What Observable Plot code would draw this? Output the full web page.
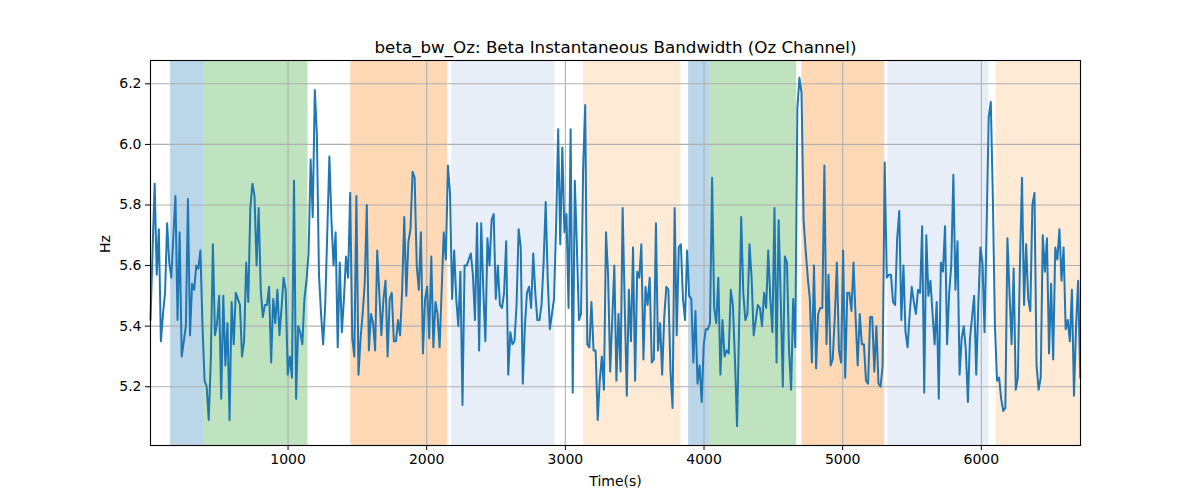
<!DOCTYPE html>
<html>
<head>
<meta charset="utf-8">
<script src="https://cdn.jsdelivr.net/npm/d3@7"></script>
<script src="https://cdn.jsdelivr.net/npm/@observablehq/plot@0.6"></script>
<style>
  html, body { margin: 0; padding: 0; background: #ffffff; }
  #chart { width: 1200px; height: 500px; }
</style>
</head>
<body>
<div id="chart"></div>
<script>
const chartTitle = "beta_bw_Oz: Beta Instantaneous Bandwidth (Oz Channel)";
const xLabel = "Time(s)";
const yLabel = "Hz";
const xTicks = [1000, 2000, 3000, 4000, 5000, 6000];
const yTicks = [5.2, 5.4, 5.6, 5.8, 6.0, 6.2];
const xDomain = [8, 6715];
const yDomain = [5.006, 6.277];

const sampleStart = 8;
const sampleStep = 15;

const bandwidth = [
  5.42,5.65,5.87,5.57,5.72,5.35,5.44,5.51,5.74,5.61,5.56,5.70,5.83,5.42,5.71,5.30,5.35,5.40,5.82,5.37,5.54,5.52,5.60,5.59,5.65,5.40,5.22,5.20,5.09,5.29,5.67,5.37,5.41,5.50,5.16,5.50,5.27,5.41,5.09,5.48,5.34,5.51,5.49,5.47,5.30,5.35,5.61,5.48,5.79,5.87,5.83,5.60,5.79,5.52,5.43,5.47,5.47,5.53,
  5.28,5.49,5.41,5.52,5.37,5.46,5.56,5.52,5.24,5.30,5.23,5.88,5.16,5.40,5.38,5.34,5.49,5.55,5.64,5.95,5.76,6.18,6.03,5.57,5.44,5.34,5.47,5.71,5.96,5.75,5.60,5.71,5.33,5.61,5.38,5.49,5.63,5.56,5.84,5.36,5.30,5.83,5.24,5.36,5.44,5.54,5.80,5.32,5.44,5.41,5.32,5.65,5.51,5.37,5.49,5.55,
  5.30,5.49,5.51,5.35,5.35,5.42,5.37,5.52,5.76,5.50,5.68,5.72,5.91,5.89,5.60,5.52,5.71,5.31,5.49,5.53,5.36,5.63,5.33,5.48,5.44,5.33,5.52,5.71,5.62,5.93,5.84,5.49,5.65,5.49,5.40,5.58,5.14,5.60,5.60,5.62,5.64,5.57,5.42,5.74,5.32,5.74,5.52,5.35,5.69,5.60,5.75,5.77,5.49,5.60,5.47,
  5.46,5.51,5.68,5.24,5.38,5.34,5.35,5.47,5.72,5.66,5.21,5.40,5.51,5.53,5.46,5.64,5.51,5.42,5.42,5.47,5.61,5.81,5.55,5.39,5.44,5.49,5.73,6.05,5.67,5.99,5.71,5.77,5.46,6.05,5.18,5.88,5.66,5.42,5.44,5.92,6.13,5.34,5.33,5.48,5.32,5.32,5.09,5.22,5.30,5.19,5.71,5.57,5.25,5.42,5.60,
  5.22,5.44,5.25,5.79,5.47,5.17,5.52,5.35,5.66,5.22,5.58,5.56,5.67,5.29,5.53,5.47,5.56,5.28,5.29,5.74,5.32,5.41,5.24,5.43,5.53,5.52,5.25,5.13,5.79,5.37,5.66,5.67,5.49,5.42,5.65,5.50,5.49,5.28,5.45,5.21,5.27,5.15,5.34,5.39,5.39,5.41,5.89,5.46,5.41,5.56,5.24,5.42,5.30,5.32,5.31,5.52,
  5.47,5.29,5.07,5.40,5.76,5.51,5.42,5.44,5.67,5.56,5.37,5.42,5.47,5.46,5.40,5.51,5.46,5.65,5.49,5.38,5.79,5.28,5.75,5.49,5.20,5.63,5.61,5.32,5.19,5.49,5.33,6.12,6.22,6.17,5.75,5.65,5.56,5.49,5.28,5.60,5.26,5.44,5.46,5.46,5.93,5.34,5.57,5.27,5.29,5.43,5.61,5.32,5.28,5.65,5.23,
  5.51,5.51,5.45,5.61,5.43,5.27,5.44,5.34,5.34,5.22,5.21,5.43,5.43,5.25,5.40,5.21,5.20,5.27,5.94,5.56,5.57,5.57,5.48,5.47,5.69,5.78,5.42,5.60,5.38,5.33,5.44,5.53,5.48,5.44,5.52,5.51,5.73,5.18,5.70,5.50,5.55,5.44,5.34,5.48,5.16,5.61,5.58,5.73,5.34,5.51,5.60,5.90,5.52,5.68,5.24,
  5.36,5.40,5.32,5.15,5.36,5.43,5.50,5.24,5.47,5.66,5.61,5.38,5.73,6.09,6.14,5.82,5.40,5.22,5.23,5.16,5.12,5.13,5.69,5.51,5.34,5.59,5.19,5.23,5.60,5.89,5.47,5.67,5.49,5.45,5.80,5.84,5.27,5.19,5.23,5.70,5.58,5.69,5.31,5.54,5.29,5.66,5.62,5.72,5.55,5.66,5.39,5.42,5.35,5.52,5.17,5.40,5.55,5.23
];

const bandStart = [153, 391, 1452, 2181, 3131, 3889, 4040, 4706, 5325, 6106];
const bandEnd   = [391, 1144, 2150, 2924, 3833, 4040, 4668, 5303, 6054, 6715];
const bandColor = ["#1f77b4", "#2ca02c", "#ff7f0e", "#aec7e8", "#ffbb78",
                   "#1f77b4", "#2ca02c", "#ff7f0e", "#aec7e8", "#ffbb78"];

const series = bandwidth.map((v, i) => ({ t: sampleStart + i * sampleStep, v }));
const bands = bandStart.map((s, i) => ({ start: s, end: bandEnd[i], color: bandColor[i] }));

const gridStyle = { stroke: "#b0b0b0", strokeOpacity: 1, strokeWidth: 1.1 };

const chart = Plot.plot({
  width: 1200,
  height: 500,
  marginLeft: 150,
  marginRight: 120,
  marginTop: 60,
  marginBottom: 55,
  style: { fontFamily: "DejaVu Sans, sans-serif", fontSize: "14px", background: "#ffffff", color: "#000000" },
  x: { domain: xDomain },
  y: { domain: yDomain },
  marks: [
    Plot.rect(bands, { x1: "start", x2: "end", fill: "color", fillOpacity: 0.3 }),
    Plot.gridX(xTicks, gridStyle),
    Plot.gridY(yTicks, gridStyle),
    Plot.line(series, { x: "t", y: "v", stroke: "#1f77b4", strokeWidth: 2 }),
    Plot.frame({ stroke: "#000000", strokeWidth: 1.1 }),
    Plot.axisX({ ticks: xTicks, tickSize: 5, tickPadding: 4, tickFormat: d => String(d), label: null, fontSize: 14 }),
    Plot.axisY({ ticks: yTicks, tickSize: 5, tickPadding: 4, tickFormat: d => d.toFixed(1), label: null, fontSize: 14 }),
    Plot.text([chartTitle], { frameAnchor: "top", dy: -8, lineAnchor: "bottom", fontSize: 16.7, text: d => d }),
    Plot.text([yLabel], { frameAnchor: "left", dx: -45, rotate: -90, fontSize: 14, text: d => d }),
    Plot.text([xLabel], { frameAnchor: "bottom", dy: 36, lineAnchor: "middle", fontSize: 14, text: d => d })
  ]
});
document.getElementById("chart").appendChild(chart);
</script>
</body>
</html>
